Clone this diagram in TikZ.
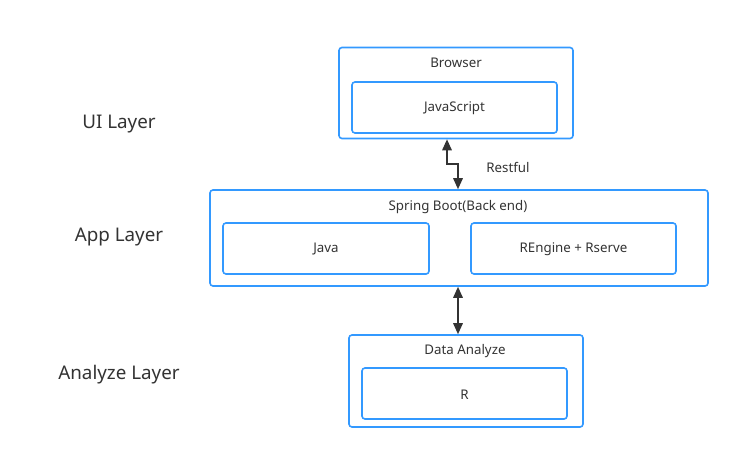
\documentclass[tikz,border=0pt]{standalone}
\usepackage{fontspec}
\setmainfont{Noto Sans}
\usetikzlibrary{arrows.meta}
\definecolor{boxblue}{HTML}{3399FF}
\definecolor{txt}{HTML}{333333}
\begin{document}
\begin{tikzpicture}[x=1pt,y=-1pt,
  box/.style={draw=boxblue,line width=1.6pt,rounded corners=3pt,text=txt},
  small/.style={text=txt,font=\fontsize{13.3}{15}\selectfont,yshift=-1pt},
  layer/.style={text=txt,font=\fontsize{18.8}{22}\selectfont,yshift=-2pt},
  conn/.style={draw=txt,line width=1.6pt,{Triangle[length=11pt,width=9.5pt]}-{Triangle[length=11pt,width=9.5pt]}}]
\useasboundingbox[fill=white] (0,0) rectangle (739,458);
% outer boxes
\node[box,minimum width=234pt,minimum height=91pt] (browser) at (456,93) {};
\node[box,minimum width=205pt,minimum height=51pt] (js) at (454.5,107.5) {};
\node[box,minimum width=498pt,minimum height=96pt] (spring) at (459,238) {};
\node[box,minimum width=206pt,minimum height=51pt] (java) at (326,248.5) {};
\node[box,minimum width=205pt,minimum height=51pt] (reng) at (573.5,248.5) {};
\node[box,minimum width=234pt,minimum height=92pt] (data) at (466,381) {};
\node[box,minimum width=205pt,minimum height=51pt] (r) at (464.5,393.5) {};
% texts
\node[small] (tbrowser) at (456,62) {Browser};
\node[small] (tjs) at (js) {JavaScript};
\node[small] (tspring) at (458,206) {Spring Boot(Back end)};
\node[small] (tjava) at (java) {Java};
\node[small] (treng) at (reng) {REngine + Rserve};
\node[small] (tdata) at (465,350) {Data Analyze};
\node[small] (tr) at (r) {R};
\node[small] (rest) at (508,166) {Restful};
\node[layer] (ui) at (119,122) {UI Layer};
\node[layer] (app) at (119,235) {App Layer};
\node[layer] (ana) at (119,373) {Analyze Layer};
% connectors
\coordinate (b1) at (447,164);
\coordinate (b2) at (458,166);
\draw[conn,rounded corners=0pt] (browser.south -| b1) -- (b1) -- (b2 |- b1) -- (b2) -- (spring.north -| b2);
\coordinate (c1) at (458,300);
\draw[conn] (spring.south -| c1) -- (data.north -| c1);
\end{tikzpicture}
\end{document}
